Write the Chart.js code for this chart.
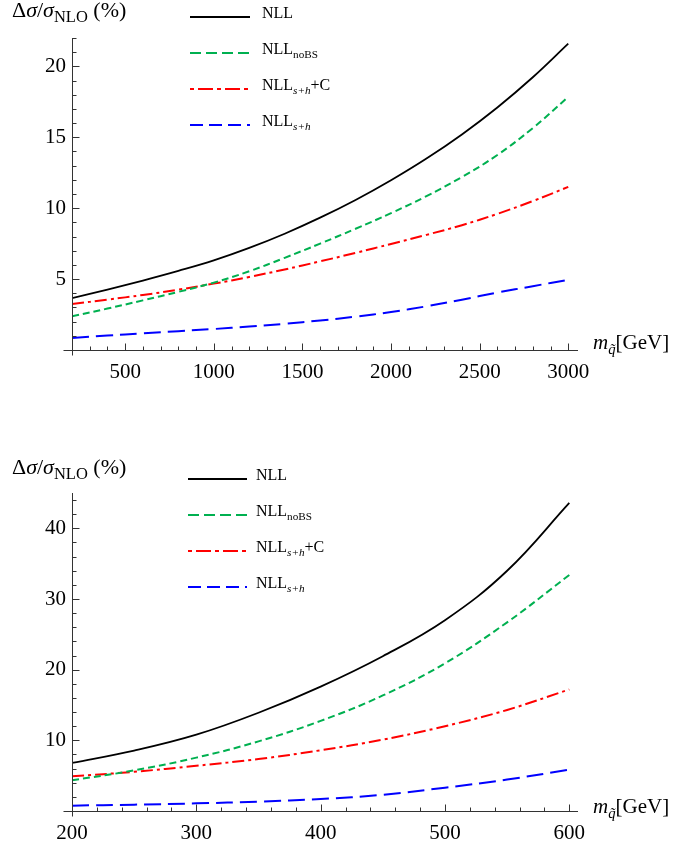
<!DOCTYPE html>
<html>
<head>
<meta charset="utf-8">
<script src="https://cdn.jsdelivr.net/npm/chart.js@4"></script>
<style>
html, body { margin: 0; padding: 0; background: #fff; }
#wrap { position: relative; width: 678px; height: 844px; }
canvas { position: absolute; left: 0; }
</style>
</head>
<body>
<div id="wrap">
  <canvas id="topChart" width="678" height="400" style="top:0"></canvas>
  <canvas id="bottomChart" width="678" height="444" style="top:400px"></canvas>
</div>
<script>
// top panel: squark mass (GeV) and corrections in %
const massTop  = [200, 400, 600, 800, 1000, 1200, 1400, 1600, 1800, 2000, 2200, 2400, 2600, 2800, 3000];
const nllTop   = [3.66, 4.26, 4.9, 5.58, 6.32, 7.2, 8.2, 9.33, 10.58, 11.97, 13.5, 15.2, 17.1, 19.23, 21.6];
const noBSTop  = [2.37, 2.92, 3.5, 4.1, 4.75, 5.55, 6.5, 7.5, 8.55, 9.65, 10.85, 12.2, 13.75, 15.65, 17.85];
const shCTop   = [3.24, 3.55, 3.88, 4.25, 4.68, 5.15, 5.68, 6.25, 6.85, 7.48, 8.12, 8.8, 9.6, 10.5, 11.5];
const shTop    = [0.85, 1.02, 1.18, 1.33, 1.48, 1.65, 1.85, 2.08, 2.35, 2.68, 3.08, 3.55, 4.05, 4.5, 4.95];

// bottom panel
const massBot  = [200, 250, 300, 350, 400, 450, 500, 550, 600];
const nllBot   = [6.8, 8.55, 10.8, 13.9, 17.6, 21.9, 27.0, 34.0, 43.6];
const noBSBot  = [4.34, 5.75, 7.55, 9.85, 12.75, 16.35, 20.9, 26.7, 33.4];
const shCBot   = [4.91, 5.55, 6.4, 7.35, 8.6, 10.1, 12.0, 14.3, 17.2];
const shBot    = [0.76, 0.9, 1.08, 1.33, 1.7, 2.3, 3.3, 4.45, 5.85];

// legend labels: [text, kind]  n = normal, i = italic, sub = subscript, subi = italic subscript
const legendLabels = [
  [['NLL', 'n']],
  [['NLL', 'n'], ['noBS', 'sub']],
  [['NLL', 'n'], ['s+h', 'subi'], ['+C', 'n']],
  [['NLL', 'n'], ['s+h', 'subi']]
];
const yTitle = [['Δ', 'n'], ['σ', 'i'], ['/', 'n'], ['σ', 'i'], ['NLO', 'sub'], [' (%)', 'n']];
const xTitle = [['m', 'i'], ['q\u0303', 'subi'], ['[GeV]', 'n']];

const styles = [
  { color: '#000000', width: 1.8, dash: [],            legendDash: [] },
  { color: '#00b050', width: 2,   dash: [7, 4],        legendDash: [11, 5] },
  { color: '#ff0000', width: 2,   dash: [12, 4, 3, 4], legendDash: [4, 4, 15, 4] },
  { color: '#0000ff', width: 2,   dash: [17, 7],       legendDash: [13, 6] }
];

const FONT = '"Liberation Serif", "Times New Roman", serif';

function drawParts(ctx, parts, x, y, size, subScale) {
  parts.forEach(([t, k]) => {
    const sub = k.indexOf('sub') === 0;
    const it = k === 'i' || k === 'subi';
    const fs = sub ? size * subScale : size;
    ctx.font = (it ? 'italic ' : '') + fs + 'px ' + FONT;
    ctx.fillText(t, x, y + (sub ? size * 0.22 : 0));
    x += ctx.measureText(t).width;
  });
}

const axesFrame = {
  id: 'axesFrame',
  afterDraw(chart, args, o) {
    const ctx = chart.ctx;
    const xs = chart.scales.x, ys = chart.scales.y;
    const x0 = Math.round(xs.getPixelForValue(xs.min)) + 0.5;
    const y0 = Math.round(ys.getPixelForValue(0)) + 0.5;
    ctx.save();
    ctx.strokeStyle = '#333';
    ctx.lineWidth = 1;
    ctx.setLineDash([]);
    ctx.beginPath();
    ctx.moveTo(x0 - 9, y0); ctx.lineTo(xs.right, y0);
    ctx.moveTo(x0, ys.top); ctx.lineTo(x0, y0 + 5);
    xs.ticks.forEach(t => {
      if (t.value === xs.min) return;
      const px = Math.round(xs.getPixelForValue(t.value)) + 0.5;
      const len = t.value % o.xMajor === 0 ? 7 : 4;
      ctx.moveTo(px, y0); ctx.lineTo(px, y0 - len);
    });
    ys.ticks.forEach(t => {
      if (t.value === 0) return;
      const py = Math.round(ys.getPixelForValue(t.value)) + 0.5;
      const len = t.value % o.yMajor === 0 ? 7 : 4;
      ctx.moveTo(x0, py); ctx.lineTo(x0 + len, py);
    });
    ctx.stroke();

    // legend samples
    const lg = o.legend;
    chart.data.datasets.forEach((ds, i) => {
      const y = lg.rows[i];
      ctx.beginPath();
      ctx.strokeStyle = ds.borderColor;
      ctx.lineWidth = ds.borderWidth;
      ctx.setLineDash(styles[i].legendDash);
      ctx.moveTo(lg.x1, y); ctx.lineTo(lg.x2, y);
      ctx.stroke();
      ctx.setLineDash([]);
      ctx.fillStyle = '#000';
      ctx.textBaseline = 'alphabetic';
      drawParts(ctx, legendLabels[i], lg.xt, y + 1, 16, 0.7);
    });

    ctx.fillStyle = '#000';
    drawParts(ctx, yTitle, o.yTitle[0], o.yTitle[1], 22, 0.75);
    drawParts(ctx, xTitle, o.xTitle[0], o.xTitle[1], 21, 0.7);
    ctx.restore();
  }
};

function makeChart(id, mass, series, cfg) {
  const datasets = series.map((vals, i) => ({
    data: mass.map((m, j) => ({ x: m, y: vals[j] })),
    borderColor: styles[i].color,
    borderWidth: styles[i].width,
    borderDash: styles[i].dash,
    pointRadius: 0,
    fill: false,
    tension: 0.4
  }));
  const tickFont = { family: FONT, size: 21 };
  return new Chart(document.getElementById(id), {
    type: 'line',
    data: { datasets: datasets },
    options: {
      responsive: false,
      animation: false,
      layout: { padding: { top: cfg.padTop, right: 100, left: 0, bottom: 0 } },
      plugins: {
        legend: { display: false },
        tooltip: { enabled: false },
        axesFrame: cfg.frame
      },
      scales: {
        x: {
          type: 'linear', min: cfg.xMin, max: cfg.xMax,
          grid: { display: false, drawTicks: false },
          border: { display: false },
          ticks: {
            autoSkip: false, maxRotation: 0, padding: 10, color: '#000', font: tickFont,
            callback: v => (v % cfg.frame.xMajor === 0 && (cfg.showFirst || v !== cfg.xMin)) ? String(v) : ''
          },
          afterBuildTicks: s => {
            const t = [];
            for (let v = cfg.xMin; v <= cfg.xLast; v += cfg.xMinor) t.push({ value: v });
            s.ticks = t;
          },
          afterFit: s => { s.height = cfg.xHeight; s.paddingLeft = 0; s.paddingRight = 0; }
        },
        y: {
          type: 'linear', min: 0, max: cfg.yMax,
          grid: { display: false, drawTicks: false },
          border: { display: false },
          ticks: {
            autoSkip: false, padding: 6, color: '#000', font: tickFont,
            callback: v => (v > 0 && v % cfg.frame.yMajor === 0) ? String(v) : ''
          },
          afterBuildTicks: s => {
            const t = [];
            for (let v = 0; v <= cfg.yMax; v += cfg.yMinor) t.push({ value: v });
            s.ticks = t;
          },
          afterFit: s => { s.width = 72; s.paddingTop = 0; s.paddingBottom = 0; }
        }
      }
    },
    plugins: [axesFrame]
  });
}

makeChart('topChart', massTop, [nllTop, noBSTop, shCTop, shTop], {
  padTop: 38, xHeight: 50, xMin: 200, xMax: 3055, xLast: 3000, xMinor: 100, showFirst: false,
  yMax: 22, yMinor: 1,
  frame: {
    xMajor: 500, yMajor: 5,
    legend: { x1: 190, x2: 250, xt: 262, rows: [17, 53, 89, 125] },
    yTitle: [12, 17], xTitle: [593, 349]
  }
});

makeChart('bottomChart', massBot, [nllBot, noBSBot, shCBot, shBot], {
  padTop: 93, xHeight: 33, xMin: 200, xMax: 607, xLast: 600, xMinor: 20, showFirst: true,
  yMax: 45, yMinor: 2,
  frame: {
    xMajor: 100, yMajor: 10,
    legend: { x1: 188, x2: 247, xt: 256, rows: [79, 115, 151, 187] },
    yTitle: [12, 74], xTitle: [593, 413]
  }
});
</script>
</body>
</html>
